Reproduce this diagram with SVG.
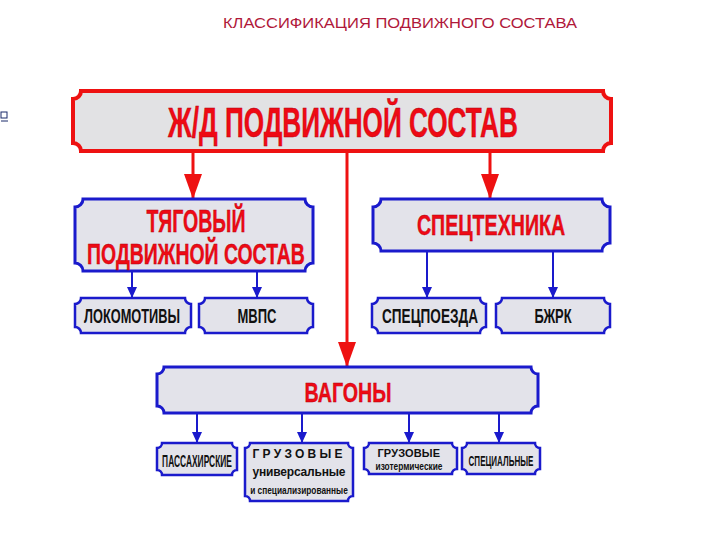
<svg xmlns="http://www.w3.org/2000/svg" width="720" height="540" viewBox="0 0 720 540">
<style>
.box{fill:#e3e3ea;stroke:#1a1acc;stroke-width:3}
.rbox{fill:#e2e2e4;stroke:#ee1111;stroke-width:4}
.sbox{fill:#e3e3ea;stroke:#1a1acc;stroke-width:2.5}
.rt{font-family:"Liberation Sans",Arial,sans-serif;font-weight:bold;fill:#ee0a14;stroke:#b00010;stroke-width:0.4;text-anchor:middle}
.bt{font-family:"Liberation Sans",Arial,sans-serif;font-weight:bold;fill:#111;text-anchor:middle}
.rl{stroke:#ee1111;stroke-width:3;fill:none}
.bl{stroke:#1a1acc;stroke-width:2;fill:none}
</style>
<defs>
<marker id="ra" markerUnits="userSpaceOnUse" markerWidth="25" markerHeight="18" viewBox="0 -9 25 18" refX="25" refY="0" orient="auto"><path d="M0,-9 L25,0 L0,9 Z" fill="#ee1111"/></marker>
<marker id="ba" markerUnits="userSpaceOnUse" markerWidth="11" markerHeight="10" viewBox="0 -5 11 10" refX="11" refY="0" orient="auto"><path d="M0,-5 L11,0 L0,5 Z" fill="#1a1acc"/></marker>
</defs>
<rect width="720" height="540" fill="#ffffff"/>
<g id="icon" fill="none" stroke="#1a2a6a" stroke-width="1"><rect x="1" y="112" width="6" height="6"/><line x1="1" y1="121" x2="8" y2="121"/></g>
<text id="title" x="400" y="28" font-family="'Liberation Sans',Arial,sans-serif" font-size="14.5" fill="#b0183a" text-anchor="middle" textLength="354" lengthAdjust="spacingAndGlyphs">КЛАССИФИКАЦИЯ ПОДВИЖНОГО СОСТАВА</text>
<g id="connectors">
<line class="rl" x1="193" y1="151" x2="193" y2="199" marker-end="url(#ra)"/>
<line class="rl" x1="347" y1="151" x2="347" y2="367" marker-end="url(#ra)"/>
<line class="rl" x1="490" y1="151" x2="490" y2="199" marker-end="url(#ra)"/>
<line class="bl" x1="132" y1="271" x2="132" y2="298" marker-end="url(#ba)"/>
<line class="bl" x1="257" y1="271" x2="257" y2="298" marker-end="url(#ba)"/>
<line class="bl" x1="427" y1="251" x2="427" y2="298" marker-end="url(#ba)"/>
<line class="bl" x1="553" y1="251" x2="553" y2="298" marker-end="url(#ba)"/>
<line class="bl" x1="197" y1="413" x2="197" y2="443" marker-end="url(#ba)"/>
<line class="bl" x1="302" y1="413" x2="302" y2="443" marker-end="url(#ba)"/>
<line class="bl" x1="409" y1="413" x2="409" y2="443" marker-end="url(#ba)"/>
<line class="bl" x1="499" y1="413" x2="499" y2="443" marker-end="url(#ba)"/>
</g>
<g id="root">
<path class="rbox" d="M81,91 H603 A8 8 0 0 0 611,99 V143 A8 8 0 0 0 603,151 H81 A8 8 0 0 0 73,143 V99 A8 8 0 0 0 81,91 Z"/>
<text class="rt" transform="translate(343,137) scale(0.6,1)" x="0" y="0" font-size="42" textLength="583" lengthAdjust="spacingAndGlyphs">Ж/Д ПОДВИЖНОЙ СОСТАВ</text>
</g>
<g id="tyagovy">
<path class="box" d="M83,199 H305 A8 8 0 0 0 313,207 V263 A8 8 0 0 0 305,271 H83 A8 8 0 0 0 75,263 V207 A8 8 0 0 0 83,199 Z"/>
<text class="rt" transform="translate(196,232) scale(0.6,1)" font-size="32" textLength="165" lengthAdjust="spacingAndGlyphs">ТЯГОВЫЙ</text>
<text class="rt" transform="translate(196,264) scale(0.6,1)" font-size="30" textLength="363" lengthAdjust="spacingAndGlyphs">ПОДВИЖНОЙ СОСТАВ</text>
</g>
<g id="spectekhnika">
<path class="box" d="M381,199 H602 A8 8 0 0 0 610,207 V243 A8 8 0 0 0 602,251 H381 A8 8 0 0 0 373,243 V207 A8 8 0 0 0 381,199 Z"/>
<text class="rt" transform="translate(491,235) scale(0.6,1)" font-size="30" textLength="247" lengthAdjust="spacingAndGlyphs">СПЕЦТЕХНИКА</text>
</g>
<g id="lokomotivy">
<path class="sbox" d="M81,298 H185 A6 6 0 0 0 191,304 V327 A6 6 0 0 0 185,333 H81 A6 6 0 0 0 75,327 V304 A6 6 0 0 0 81,298 Z"/>
<text class="bt" transform="translate(132,323) scale(0.6,1)" font-size="21" textLength="160" lengthAdjust="spacingAndGlyphs">ЛОКОМОТИВЫ</text>
</g>
<g id="mvps">
<path class="sbox" d="M205,298 H307 A6 6 0 0 0 313,304 V327 A6 6 0 0 0 307,333 H205 A6 6 0 0 0 199,327 V304 A6 6 0 0 0 205,298 Z"/>
<text class="bt" transform="translate(257,323) scale(0.6,1)" font-size="21" textLength="65" lengthAdjust="spacingAndGlyphs">МВПС</text>
</g>
<g id="specpoezda">
<path class="sbox" d="M378,298 H480 A6 6 0 0 0 486,304 V327 A6 6 0 0 0 480,333 H378 A6 6 0 0 0 372,327 V304 A6 6 0 0 0 378,298 Z"/>
<text class="bt" transform="translate(430,323) scale(0.6,1)" font-size="21" textLength="160" lengthAdjust="spacingAndGlyphs">СПЕЦПОЕЗДА</text>
</g>
<g id="bzhrk">
<path class="sbox" d="M502,298 H604 A6 6 0 0 0 610,304 V327 A6 6 0 0 0 604,333 H502 A6 6 0 0 0 496,327 V304 A6 6 0 0 0 502,298 Z"/>
<text class="bt" transform="translate(553,323) scale(0.6,1)" font-size="21" textLength="62" lengthAdjust="spacingAndGlyphs">БЖРК</text>
</g>
<g id="vagony">
<path class="box" d="M164,367 H531 A7 7 0 0 0 538,374 V406 A7 7 0 0 0 531,413 H164 A7 7 0 0 0 157,406 V374 A7 7 0 0 0 164,367 Z"/>
<text class="rt" transform="translate(348,402) scale(0.6,1)" font-size="28" textLength="145" lengthAdjust="spacingAndGlyphs">ВАГОНЫ</text>
</g>
<g id="passazhirskie">
<path class="sbox" d="M162,443 H232 A5 5 0 0 0 237,448 V470 A5 5 0 0 0 232,475 H162 A5 5 0 0 0 157,470 V448 A5 5 0 0 0 162,443 Z"/>
<text class="bt" transform="translate(197,467) scale(0.55,1)" font-size="16" textLength="127" lengthAdjust="spacingAndGlyphs">ПАССАХИРСКИЕ</text>
</g>
<g id="gruzovye-univ">
<path class="sbox" d="M250,443 H348 A5 5 0 0 0 353,448 V496 A5 5 0 0 0 348,501 H250 A5 5 0 0 0 245,496 V448 A5 5 0 0 0 250,443 Z"/>
<text class="bt" x="300" y="458" font-size="12" letter-spacing="5" textLength="95" lengthAdjust="spacing">ГРУЗОВЫЕ</text>
<text class="bt" x="300" y="476" font-size="12" font-weight="normal" letter-spacing="2" textLength="95" lengthAdjust="spacing">универсальные</text>
<text class="bt" transform="translate(299,494) scale(0.8,1)" font-size="11" font-weight="normal" textLength="122" lengthAdjust="spacingAndGlyphs">и специализированные</text>
</g>
<g id="gruzovye-izoterm">
<path class="sbox" d="M369,443 H452 A5 5 0 0 0 457,448 V469 A5 5 0 0 0 452,474 H369 A5 5 0 0 0 364,469 V448 A5 5 0 0 0 369,443 Z"/>
<text class="bt" x="410" y="457" font-size="11" letter-spacing="2.5" textLength="65" lengthAdjust="spacing">ГРУЗОВЫЕ</text>
<text class="bt" x="409" y="470" font-size="10" font-weight="normal" textLength="67" lengthAdjust="spacingAndGlyphs">изотермические</text>
</g>
<g id="specialnye">
<path class="sbox" d="M467,443 H535 A5 5 0 0 0 540,448 V469 A5 5 0 0 0 535,474 H467 A5 5 0 0 0 462,469 V448 A5 5 0 0 0 467,443 Z"/>
<text class="bt" transform="translate(501,466) scale(0.55,1)" font-size="15" textLength="118" lengthAdjust="spacingAndGlyphs">СПЕЦИАЛЬНЫЕ</text>
</g>
</svg>
